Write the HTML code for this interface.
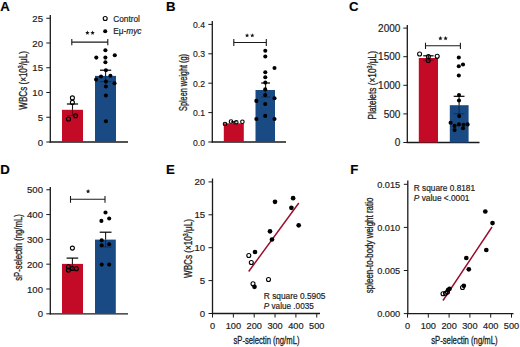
<!DOCTYPE html>
<html><head><meta charset="utf-8"><style>
html,body{margin:0;padding:0;background:#fff;}
body{width:520px;height:347px;overflow:hidden;}
svg{display:block;font-family:"Liberation Sans", sans-serif;}
text{stroke:#222;stroke-width:0.18px;}
</style></head><body>
<svg width="520" height="347" viewBox="0 0 520 347">
<rect width="520" height="347" fill="#fff"/>
<text x="0.2" y="11.2" font-size="13.2" text-anchor="start" font-weight="bold" fill="#000" >A</text>
<line x1="50.3" y1="15" x2="50.3" y2="142.6" stroke="#1a1a1a" stroke-width="1.3"/>
<line x1="46.3" y1="142.0" x2="50.3" y2="142.0" stroke="#1a1a1a" stroke-width="1"/>
<text transform="translate(43.00,145.55) scale(1.0,1)" font-size="9.6" text-anchor="end" fill="#1a1a1a">0</text>
<line x1="46.3" y1="117.25" x2="50.3" y2="117.25" stroke="#1a1a1a" stroke-width="1"/>
<text transform="translate(43.00,120.80) scale(1.0,1)" font-size="9.6" text-anchor="end" fill="#1a1a1a">5</text>
<line x1="46.3" y1="92.5" x2="50.3" y2="92.5" stroke="#1a1a1a" stroke-width="1"/>
<text transform="translate(43.00,96.05) scale(1.0,1)" font-size="9.6" text-anchor="end" fill="#1a1a1a">10</text>
<line x1="46.3" y1="67.75" x2="50.3" y2="67.75" stroke="#1a1a1a" stroke-width="1"/>
<text transform="translate(43.00,71.30) scale(1.0,1)" font-size="9.6" text-anchor="end" fill="#1a1a1a">15</text>
<line x1="46.3" y1="43.0" x2="50.3" y2="43.0" stroke="#1a1a1a" stroke-width="1"/>
<text transform="translate(43.00,46.55) scale(1.0,1)" font-size="9.6" text-anchor="end" fill="#1a1a1a">20</text>
<line x1="46.3" y1="18.25" x2="50.3" y2="18.25" stroke="#1a1a1a" stroke-width="1"/>
<text transform="translate(43.00,21.80) scale(1.0,1)" font-size="9.6" text-anchor="end" fill="#1a1a1a">25</text>
<line x1="49.699999999999996" y1="142.0" x2="128" y2="142.0" stroke="#1a1a1a" stroke-width="1.3"/>
<rect x="62" y="109.8" width="21" height="32.2" fill="#C30A26"/>
<rect x="95" y="75.9" width="21" height="66.1" fill="#1A4A84"/>
<line x1="72.5" y1="104" x2="72.5" y2="109.8" stroke="#1a1a1a" stroke-width="1.1"/>
<line x1="72.5" y1="109.8" x2="72.5" y2="115.6" stroke="#000" stroke-opacity="0.45" stroke-width="1.1"/>
<line x1="66.9" y1="115.6" x2="78.1" y2="115.6" stroke="#000" stroke-opacity="0.35" stroke-width="1.1"/>
<line x1="66.9" y1="104" x2="78.1" y2="104" stroke="#000" stroke-width="1.2"/>
<line x1="105.6" y1="70.2" x2="105.6" y2="75.9" stroke="#1a1a1a" stroke-width="1.1"/>
<line x1="105.6" y1="75.9" x2="105.6" y2="81.6" stroke="#000" stroke-opacity="0.45" stroke-width="1.1"/>
<line x1="100.0" y1="81.6" x2="111.19999999999999" y2="81.6" stroke="#000" stroke-opacity="0.35" stroke-width="1.1"/>
<line x1="100.0" y1="70.2" x2="111.19999999999999" y2="70.2" stroke="#000" stroke-width="1.2"/>
<circle cx="72.4" cy="97.9" r="2.0" fill="none" stroke="#000" stroke-width="1.1"/>
<circle cx="72.4" cy="102.4" r="2.0" fill="none" stroke="#000" stroke-width="1.1"/>
<circle cx="68.5" cy="119" r="2.0" fill="none" stroke="#000" stroke-width="1.1"/>
<circle cx="75.6" cy="115.7" r="2.0" fill="none" stroke="#000" stroke-width="1.1"/>
<circle cx="105.4" cy="50.2" r="2.05" fill="#000"/>
<circle cx="96.3" cy="57.6" r="2.05" fill="#000"/>
<circle cx="105.4" cy="57.6" r="2.05" fill="#000"/>
<circle cx="114.8" cy="55.2" r="2.05" fill="#000"/>
<circle cx="105.4" cy="62.3" r="2.05" fill="#000"/>
<circle cx="105.9" cy="70.3" r="2.05" fill="#000"/>
<circle cx="96.1" cy="79.6" r="2.05" fill="#000"/>
<circle cx="101" cy="76.5" r="2.05" fill="#000"/>
<circle cx="110.4" cy="75.8" r="2.05" fill="#000"/>
<circle cx="105.9" cy="81.6" r="2.05" fill="#000"/>
<circle cx="114.5" cy="83.3" r="2.05" fill="#000"/>
<circle cx="105.9" cy="86.5" r="2.05" fill="#000"/>
<circle cx="105.9" cy="95.5" r="2.05" fill="#000"/>
<circle cx="105.9" cy="121.3" r="2.05" fill="#000"/>
<line x1="71.8" y1="42.1" x2="107.8" y2="42.1" stroke="#1a1a1a" stroke-width="1.1"/>
<line x1="71.8" y1="39.1" x2="71.8" y2="45.2" stroke="#1a1a1a" stroke-width="1.1"/>
<line x1="107.8" y1="39.1" x2="107.8" y2="45.2" stroke="#1a1a1a" stroke-width="1.1"/>
<polygon points="87.40,30.60 87.99,32.09 89.59,32.19 88.35,33.21 88.75,34.76 87.40,33.90 86.05,34.76 86.45,33.21 85.21,32.19 86.81,32.09" fill="#111"/>
<polygon points="92.60,30.60 93.19,32.09 94.79,32.19 93.55,33.21 93.95,34.76 92.60,33.90 91.25,34.76 91.65,33.21 90.41,32.19 92.01,32.09" fill="#111"/>
<circle cx="105.2" cy="18.5" r="2.0" fill="none" stroke="#000" stroke-width="1.1"/>
<text x="113.2" y="21.6" font-size="8.3" text-anchor="start" font-weight="normal" fill="#1a1a1a" >Control</text>
<circle cx="105.2" cy="31.2" r="2.05" fill="#000"/>
<text x="113.2" y="34.2" font-size="8.3" text-anchor="start" font-weight="normal" fill="#1a1a1a" >Eμ-<tspan font-style="italic">myc</tspan></text>
<text x="0" y="0" font-size="10" text-anchor="middle" fill="#1a1a1a" style="stroke-width:0.3px" textLength="58.5" lengthAdjust="spacingAndGlyphs" transform="translate(23.3,80.4) rotate(-90)" dominant-baseline="central">WBCs (×10<tspan dy="-3" font-size="6.5">3</tspan><tspan dy="3">/μL)</tspan></text>
<text x="166.1" y="11.3" font-size="13.2" text-anchor="start" font-weight="bold" fill="#000" >B</text>
<line x1="212.3" y1="21" x2="212.3" y2="142.6" stroke="#1a1a1a" stroke-width="1.3"/>
<line x1="208.3" y1="142.0" x2="212.3" y2="142.0" stroke="#1a1a1a" stroke-width="1"/>
<text transform="translate(205.00,145.66) scale(0.87,1)" font-size="9.9" text-anchor="end" fill="#1a1a1a">0.0</text>
<line x1="208.3" y1="112.6" x2="212.3" y2="112.6" stroke="#1a1a1a" stroke-width="1"/>
<text transform="translate(205.00,116.26) scale(0.87,1)" font-size="9.9" text-anchor="end" fill="#1a1a1a">0.1</text>
<line x1="208.3" y1="83.19999999999999" x2="212.3" y2="83.19999999999999" stroke="#1a1a1a" stroke-width="1"/>
<text transform="translate(205.00,86.86) scale(0.87,1)" font-size="9.9" text-anchor="end" fill="#1a1a1a">0.2</text>
<line x1="208.3" y1="53.8" x2="212.3" y2="53.8" stroke="#1a1a1a" stroke-width="1"/>
<text transform="translate(205.00,57.46) scale(0.87,1)" font-size="9.9" text-anchor="end" fill="#1a1a1a">0.3</text>
<line x1="208.3" y1="24.39999999999999" x2="212.3" y2="24.39999999999999" stroke="#1a1a1a" stroke-width="1"/>
<text transform="translate(205.00,28.06) scale(0.87,1)" font-size="9.9" text-anchor="end" fill="#1a1a1a">0.4</text>
<line x1="211.70000000000002" y1="142" x2="286" y2="142" stroke="#1a1a1a" stroke-width="1.3"/>
<rect x="223.8" y="123.3" width="20" height="18.700000000000003" fill="#C30A26"/>
<rect x="255.5" y="90" width="19.5" height="52" fill="#1A4A84"/>
<line x1="265.6" y1="83" x2="265.6" y2="90" stroke="#1a1a1a" stroke-width="1.1"/>
<line x1="265.6" y1="90" x2="265.6" y2="97" stroke="#000" stroke-opacity="0.45" stroke-width="1.1"/>
<line x1="261.20000000000005" y1="97" x2="270.0" y2="97" stroke="#000" stroke-opacity="0.35" stroke-width="1.1"/>
<line x1="261.20000000000005" y1="83" x2="270.0" y2="83" stroke="#000" stroke-width="1.2"/>
<line x1="233.8" y1="121.8" x2="233.8" y2="124.6" stroke="#1a1a1a" stroke-width="1.1"/>
<line x1="231" y1="121.8" x2="236.6" y2="121.8" stroke="#1a1a1a" stroke-width="1.2"/>
<circle cx="225" cy="124" r="1.75" fill="none" stroke="#000" stroke-width="1.1"/>
<circle cx="231" cy="121.5" r="1.75" fill="none" stroke="#000" stroke-width="1.1"/>
<circle cx="236.3" cy="122.3" r="1.75" fill="none" stroke="#000" stroke-width="1.1"/>
<circle cx="242.4" cy="121.8" r="1.75" fill="none" stroke="#000" stroke-width="1.1"/>
<circle cx="265.3" cy="50.8" r="2.05" fill="#000"/>
<circle cx="265.3" cy="56.5" r="2.05" fill="#000"/>
<circle cx="274.5" cy="68" r="2.05" fill="#000"/>
<circle cx="265.3" cy="72.2" r="2.05" fill="#000"/>
<circle cx="265.3" cy="77.3" r="2.05" fill="#000"/>
<circle cx="265.3" cy="82.6" r="2.05" fill="#000"/>
<circle cx="265.2" cy="89.4" r="2.05" fill="#000"/>
<circle cx="265.2" cy="95.1" r="2.05" fill="#000"/>
<circle cx="256.4" cy="100.9" r="2.05" fill="#000"/>
<circle cx="274.5" cy="98.2" r="2.05" fill="#000"/>
<circle cx="265.2" cy="104" r="2.05" fill="#000"/>
<circle cx="265.2" cy="115.9" r="2.05" fill="#000"/>
<circle cx="256.4" cy="119" r="2.05" fill="#000"/>
<circle cx="274.5" cy="119" r="2.05" fill="#000"/>
<line x1="233.8" y1="42.5" x2="266.3" y2="42.5" stroke="#1a1a1a" stroke-width="1.1"/>
<line x1="233.8" y1="39.0" x2="233.8" y2="46.0" stroke="#1a1a1a" stroke-width="1.1"/>
<line x1="266.3" y1="39.0" x2="266.3" y2="46.0" stroke="#1a1a1a" stroke-width="1.1"/>
<polygon points="247.10,33.20 247.69,34.69 249.29,34.79 248.05,35.81 248.45,37.36 247.10,36.50 245.75,37.36 246.15,35.81 244.91,34.79 246.51,34.69" fill="#111"/>
<polygon points="252.30,33.20 252.89,34.69 254.49,34.79 253.25,35.81 253.65,37.36 252.30,36.50 250.95,37.36 251.35,35.81 250.11,34.79 251.71,34.69" fill="#111"/>
<text x="0" y="0" font-size="10" text-anchor="middle" fill="#1a1a1a" style="stroke-width:0.3px" textLength="57" lengthAdjust="spacingAndGlyphs" transform="translate(183.7,82.5) rotate(-90)" dominant-baseline="central">Spleen weight (g)</text>
<text x="349.0" y="11.2" font-size="13.2" text-anchor="start" font-weight="bold" fill="#000" >C</text>
<line x1="407.3" y1="25" x2="407.3" y2="143.1" stroke="#1a1a1a" stroke-width="1.3"/>
<line x1="403.3" y1="142.5" x2="407.3" y2="142.5" stroke="#1a1a1a" stroke-width="1"/>
<text transform="translate(400.30,146.27) scale(0.98,1)" font-size="10.2" text-anchor="end" fill="#1a1a1a">0</text>
<line x1="403.3" y1="113.9" x2="407.3" y2="113.9" stroke="#1a1a1a" stroke-width="1"/>
<text transform="translate(400.30,117.67) scale(0.98,1)" font-size="10.2" text-anchor="end" fill="#1a1a1a">500</text>
<line x1="403.3" y1="85.3" x2="407.3" y2="85.3" stroke="#1a1a1a" stroke-width="1"/>
<text transform="translate(400.30,89.07) scale(0.98,1)" font-size="10.2" text-anchor="end" fill="#1a1a1a">1000</text>
<line x1="403.3" y1="56.7" x2="407.3" y2="56.7" stroke="#1a1a1a" stroke-width="1"/>
<text transform="translate(400.30,60.47) scale(0.98,1)" font-size="10.2" text-anchor="end" fill="#1a1a1a">1500</text>
<line x1="403.3" y1="28.099999999999994" x2="407.3" y2="28.099999999999994" stroke="#1a1a1a" stroke-width="1"/>
<text transform="translate(400.30,31.87) scale(0.98,1)" font-size="10.2" text-anchor="end" fill="#1a1a1a">2000</text>
<line x1="406.7" y1="142.5" x2="479.5" y2="142.5" stroke="#1a1a1a" stroke-width="1.3"/>
<rect x="418.8" y="58" width="19.2" height="84.5" fill="#C30A26"/>
<rect x="449.8" y="105.2" width="18.8" height="37.3" fill="#1A4A84"/>
<line x1="428.4" y1="55.8" x2="428.4" y2="58" stroke="#1a1a1a" stroke-width="1.1"/>
<line x1="428.4" y1="58" x2="428.4" y2="60.2" stroke="#000" stroke-opacity="0.45" stroke-width="1.1"/>
<line x1="423.2" y1="60.2" x2="433.59999999999997" y2="60.2" stroke="#000" stroke-opacity="0.35" stroke-width="1.1"/>
<line x1="423.2" y1="55.8" x2="433.59999999999997" y2="55.8" stroke="#000" stroke-width="1.2"/>
<line x1="459.1" y1="96.3" x2="459.1" y2="105" stroke="#1a1a1a" stroke-width="1.1"/>
<line x1="459.1" y1="105" x2="459.1" y2="113.7" stroke="#000" stroke-opacity="0.45" stroke-width="1.1"/>
<line x1="453.70000000000005" y1="113.7" x2="464.5" y2="113.7" stroke="#000" stroke-opacity="0.35" stroke-width="1.1"/>
<line x1="453.70000000000005" y1="96.3" x2="464.5" y2="96.3" stroke="#000" stroke-width="1.2"/>
<circle cx="419.6" cy="54" r="2.0" fill="none" stroke="#000" stroke-width="1.1"/>
<circle cx="428.4" cy="56.5" r="2.0" fill="none" stroke="#000" stroke-width="1.1"/>
<circle cx="437.2" cy="56.2" r="2.0" fill="none" stroke="#000" stroke-width="1.1"/>
<circle cx="428.2" cy="60.5" r="2.0" fill="none" stroke="#000" stroke-width="1.1"/>
<circle cx="458.8" cy="57.5" r="2.05" fill="#000"/>
<circle cx="458.8" cy="66.3" r="2.05" fill="#000"/>
<circle cx="463" cy="64.5" r="2.05" fill="#000"/>
<circle cx="458.8" cy="75.5" r="2.05" fill="#000"/>
<circle cx="459" cy="95" r="2.05" fill="#000"/>
<circle cx="459" cy="100.5" r="2.05" fill="#000"/>
<circle cx="459.2" cy="116.1" r="2.05" fill="#000"/>
<circle cx="450.6" cy="122.8" r="2.05" fill="#000"/>
<circle cx="454.6" cy="125.9" r="2.05" fill="#000"/>
<circle cx="458.9" cy="124.4" r="2.05" fill="#000"/>
<circle cx="463.5" cy="124.7" r="2.05" fill="#000"/>
<circle cx="467.6" cy="124.4" r="2.05" fill="#000"/>
<circle cx="454.6" cy="130.1" r="2.05" fill="#000"/>
<circle cx="463" cy="128.2" r="2.05" fill="#000"/>
<line x1="425.5" y1="45.8" x2="460.4" y2="45.8" stroke="#1a1a1a" stroke-width="1.1"/>
<line x1="425.5" y1="42.7" x2="425.5" y2="49.0" stroke="#1a1a1a" stroke-width="1.1"/>
<line x1="460.4" y1="42.7" x2="460.4" y2="49.0" stroke="#1a1a1a" stroke-width="1.1"/>
<polygon points="440.40,36.10 440.99,37.59 442.59,37.69 441.35,38.71 441.75,40.26 440.40,39.40 439.05,40.26 439.45,38.71 438.21,37.69 439.81,37.59" fill="#111"/>
<polygon points="445.60,36.10 446.19,37.59 447.79,37.69 446.55,38.71 446.95,40.26 445.60,39.40 444.25,40.26 444.65,38.71 443.41,37.69 445.01,37.59" fill="#111"/>
<text x="0" y="0" font-size="10" text-anchor="middle" fill="#1a1a1a" style="stroke-width:0.3px" textLength="68.4" lengthAdjust="spacingAndGlyphs" transform="translate(372.2,85.2) rotate(-90)" dominant-baseline="central">Platelets (×10<tspan dy="-3" font-size="6.5">3</tspan><tspan dy="3">/μL)</tspan></text>
<text x="0.3" y="173.8" font-size="13.2" text-anchor="start" font-weight="bold" fill="#000" >D</text>
<line x1="50.3" y1="187" x2="50.3" y2="314.40000000000003" stroke="#1a1a1a" stroke-width="1.3"/>
<line x1="46.3" y1="313.8" x2="50.3" y2="313.8" stroke="#1a1a1a" stroke-width="1"/>
<text transform="translate(43.00,317.35) scale(1.0,1)" font-size="9.6" text-anchor="end" fill="#1a1a1a">0</text>
<line x1="46.3" y1="288.99" x2="50.3" y2="288.99" stroke="#1a1a1a" stroke-width="1"/>
<text transform="translate(43.00,292.54) scale(1.0,1)" font-size="9.6" text-anchor="end" fill="#1a1a1a">100</text>
<line x1="46.3" y1="264.18" x2="50.3" y2="264.18" stroke="#1a1a1a" stroke-width="1"/>
<text transform="translate(43.00,267.73) scale(1.0,1)" font-size="9.6" text-anchor="end" fill="#1a1a1a">200</text>
<line x1="46.3" y1="239.37" x2="50.3" y2="239.37" stroke="#1a1a1a" stroke-width="1"/>
<text transform="translate(43.00,242.92) scale(1.0,1)" font-size="9.6" text-anchor="end" fill="#1a1a1a">300</text>
<line x1="46.3" y1="214.56" x2="50.3" y2="214.56" stroke="#1a1a1a" stroke-width="1"/>
<text transform="translate(43.00,218.11) scale(1.0,1)" font-size="9.6" text-anchor="end" fill="#1a1a1a">400</text>
<line x1="46.3" y1="189.75" x2="50.3" y2="189.75" stroke="#1a1a1a" stroke-width="1"/>
<text transform="translate(43.00,193.30) scale(1.0,1)" font-size="9.6" text-anchor="end" fill="#1a1a1a">500</text>
<line x1="49.699999999999996" y1="313.8" x2="128" y2="313.8" stroke="#1a1a1a" stroke-width="1.3"/>
<rect x="62" y="263.9" width="21" height="49.900000000000034" fill="#C30A26"/>
<rect x="95" y="239.6" width="20.8" height="74.20000000000002" fill="#1A4A84"/>
<line x1="72.4" y1="258.1" x2="72.4" y2="263.9" stroke="#1a1a1a" stroke-width="1.1"/>
<line x1="72.4" y1="263.9" x2="72.4" y2="269.7" stroke="#000" stroke-opacity="0.45" stroke-width="1.1"/>
<line x1="66.60000000000001" y1="269.7" x2="78.2" y2="269.7" stroke="#000" stroke-opacity="0.35" stroke-width="1.1"/>
<line x1="66.60000000000001" y1="258.1" x2="78.2" y2="258.1" stroke="#000" stroke-width="1.2"/>
<line x1="105.6" y1="232.2" x2="105.6" y2="239.6" stroke="#1a1a1a" stroke-width="1.1"/>
<line x1="105.6" y1="239.6" x2="105.6" y2="247" stroke="#000" stroke-opacity="0.45" stroke-width="1.1"/>
<line x1="99.69999999999999" y1="247" x2="111.5" y2="247" stroke="#000" stroke-opacity="0.35" stroke-width="1.1"/>
<line x1="99.69999999999999" y1="232.2" x2="111.5" y2="232.2" stroke="#000" stroke-width="1.2"/>
<circle cx="72.4" cy="248.1" r="2.0" fill="none" stroke="#000" stroke-width="1.1"/>
<circle cx="68.4" cy="266.7" r="2.0" fill="none" stroke="#000" stroke-width="1.1"/>
<circle cx="68.4" cy="270.1" r="2.0" fill="none" stroke="#000" stroke-width="1.1"/>
<circle cx="72.4" cy="268.5" r="2.0" fill="none" stroke="#000" stroke-width="1.1"/>
<circle cx="76.4" cy="268.8" r="2.0" fill="none" stroke="#000" stroke-width="1.1"/>
<circle cx="105.5" cy="212.5" r="2.05" fill="#000"/>
<circle cx="101.4" cy="220.9" r="2.05" fill="#000"/>
<circle cx="109.2" cy="218.5" r="2.05" fill="#000"/>
<circle cx="101.7" cy="240.2" r="2.05" fill="#000"/>
<circle cx="101.7" cy="245.3" r="2.05" fill="#000"/>
<circle cx="109.2" cy="244.3" r="2.05" fill="#000"/>
<circle cx="101.7" cy="264.6" r="2.05" fill="#000"/>
<circle cx="109.2" cy="264.6" r="2.05" fill="#000"/>
<line x1="70.5" y1="199.3" x2="105" y2="199.3" stroke="#1a1a1a" stroke-width="1.1"/>
<line x1="70.5" y1="196.0" x2="70.5" y2="202.8" stroke="#1a1a1a" stroke-width="1.1"/>
<line x1="105" y1="196.0" x2="105" y2="202.8" stroke="#1a1a1a" stroke-width="1.1"/>
<polygon points="88.10,189.10 88.69,190.59 90.29,190.69 89.05,191.71 89.45,193.26 88.10,192.40 86.75,193.26 87.15,191.71 85.91,190.69 87.51,190.59" fill="#111"/>
<text x="0" y="0" font-size="10" text-anchor="middle" fill="#1a1a1a" style="stroke-width:0.3px" textLength="66.5" lengthAdjust="spacingAndGlyphs" transform="translate(18.3,247.5) rotate(-90)" dominant-baseline="central">sP-selectin (ng/mL)</text>
<text x="166.1" y="173.8" font-size="13.2" text-anchor="start" font-weight="bold" fill="#000" >E</text>
<line x1="212.5" y1="178.5" x2="212.5" y2="314.1" stroke="#1a1a1a" stroke-width="1.3"/>
<line x1="208.5" y1="313.5" x2="212.5" y2="313.5" stroke="#1a1a1a" stroke-width="1"/>
<text transform="translate(205.20,317.05) scale(1.0,1)" font-size="9.6" text-anchor="end" fill="#1a1a1a">0</text>
<line x1="208.5" y1="280.6" x2="212.5" y2="280.6" stroke="#1a1a1a" stroke-width="1"/>
<text transform="translate(205.20,284.15) scale(1.0,1)" font-size="9.6" text-anchor="end" fill="#1a1a1a">5</text>
<line x1="208.5" y1="247.7" x2="212.5" y2="247.7" stroke="#1a1a1a" stroke-width="1"/>
<text transform="translate(205.20,251.25) scale(1.0,1)" font-size="9.6" text-anchor="end" fill="#1a1a1a">10</text>
<line x1="208.5" y1="214.8" x2="212.5" y2="214.8" stroke="#1a1a1a" stroke-width="1"/>
<text transform="translate(205.20,218.35) scale(1.0,1)" font-size="9.6" text-anchor="end" fill="#1a1a1a">15</text>
<line x1="208.5" y1="181.9" x2="212.5" y2="181.9" stroke="#1a1a1a" stroke-width="1"/>
<text transform="translate(205.20,185.45) scale(1.0,1)" font-size="9.6" text-anchor="end" fill="#1a1a1a">20</text>
<line x1="211.9" y1="313.5" x2="320" y2="313.5" stroke="#1a1a1a" stroke-width="1.3"/>
<line x1="212.5" y1="313.5" x2="212.5" y2="317.5" stroke="#1a1a1a" stroke-width="1"/>
<text x="212.5" y="328.7" font-size="9.2" text-anchor="middle" font-weight="normal" fill="#1a1a1a" >0</text>
<line x1="233.35" y1="313.5" x2="233.35" y2="317.5" stroke="#1a1a1a" stroke-width="1"/>
<text x="233.35" y="328.7" font-size="9.2" text-anchor="middle" font-weight="normal" fill="#1a1a1a" >100</text>
<line x1="254.2" y1="313.5" x2="254.2" y2="317.5" stroke="#1a1a1a" stroke-width="1"/>
<text x="254.2" y="328.7" font-size="9.2" text-anchor="middle" font-weight="normal" fill="#1a1a1a" >200</text>
<line x1="275.05" y1="313.5" x2="275.05" y2="317.5" stroke="#1a1a1a" stroke-width="1"/>
<text x="275.05" y="328.7" font-size="9.2" text-anchor="middle" font-weight="normal" fill="#1a1a1a" >300</text>
<line x1="295.9" y1="313.5" x2="295.9" y2="317.5" stroke="#1a1a1a" stroke-width="1"/>
<text x="295.9" y="328.7" font-size="9.2" text-anchor="middle" font-weight="normal" fill="#1a1a1a" >400</text>
<line x1="316.75" y1="313.5" x2="316.75" y2="317.5" stroke="#1a1a1a" stroke-width="1"/>
<text x="316.75" y="328.7" font-size="9.2" text-anchor="middle" font-weight="normal" fill="#1a1a1a" >500</text>
<text x="266.45" y="343.9" font-size="10" text-anchor="middle" font-weight="normal" fill="#1a1a1a" style="stroke-width:0.3px" textLength="66" lengthAdjust="spacingAndGlyphs">sP-selectin (ng/mL)</text>
<line x1="248.7" y1="271.5" x2="298.8" y2="203" stroke="#980C2C" stroke-width="1.45"/>
<circle cx="275" cy="201.8" r="2.35" fill="#000"/>
<circle cx="293.1" cy="198.2" r="2.35" fill="#000"/>
<circle cx="291.4" cy="207.8" r="2.35" fill="#000"/>
<circle cx="298.7" cy="225.3" r="2.35" fill="#000"/>
<circle cx="270" cy="231.3" r="2.35" fill="#000"/>
<circle cx="272" cy="239.5" r="2.35" fill="#000"/>
<circle cx="255" cy="252" r="2.35" fill="#000"/>
<circle cx="254.5" cy="286.8" r="2.35" fill="#000"/>
<circle cx="248.8" cy="255.5" r="2.0" fill="none" stroke="#000" stroke-width="1.1"/>
<circle cx="251.3" cy="262.5" r="2.0" fill="none" stroke="#000" stroke-width="1.1"/>
<circle cx="253" cy="283.8" r="2.0" fill="none" stroke="#000" stroke-width="1.1"/>
<circle cx="268.5" cy="279.5" r="2.0" fill="none" stroke="#000" stroke-width="1.1"/>
<text x="263.8" y="298.8" font-size="8.4" text-anchor="start" font-weight="normal" fill="#1a1a1a" textLength="61.7" lengthAdjust="spacingAndGlyphs">R square 0.5905</text>
<text x="263.8" y="309.2" font-size="8.4" text-anchor="start" font-weight="normal" fill="#1a1a1a" textLength="50" lengthAdjust="spacingAndGlyphs"><tspan font-style="italic">P</tspan> value .0035</text>
<text x="0" y="0" font-size="10" text-anchor="middle" fill="#1a1a1a" style="stroke-width:0.3px" textLength="59" lengthAdjust="spacingAndGlyphs" transform="translate(188.3,248.5) rotate(-90)" dominant-baseline="central">WBCs (×10<tspan dy="-3" font-size="6.5">3</tspan><tspan dy="3">/μL)</tspan></text>
<text x="350.2" y="173.8" font-size="13.2" text-anchor="start" font-weight="bold" fill="#000" >F</text>
<line x1="407.8" y1="180.5" x2="407.8" y2="314.20000000000005" stroke="#1a1a1a" stroke-width="1.3"/>
<line x1="403.8" y1="313.6" x2="407.8" y2="313.6" stroke="#1a1a1a" stroke-width="1"/>
<text transform="translate(400.20,317.23) scale(0.94,1)" font-size="9.8" text-anchor="end" fill="#1a1a1a">0.000</text>
<line x1="403.8" y1="270.5" x2="407.8" y2="270.5" stroke="#1a1a1a" stroke-width="1"/>
<text transform="translate(400.20,274.13) scale(0.94,1)" font-size="9.8" text-anchor="end" fill="#1a1a1a">0.005</text>
<line x1="403.8" y1="227.40000000000003" x2="407.8" y2="227.40000000000003" stroke="#1a1a1a" stroke-width="1"/>
<text transform="translate(400.20,231.03) scale(0.94,1)" font-size="9.8" text-anchor="end" fill="#1a1a1a">0.010</text>
<line x1="403.8" y1="184.30000000000004" x2="407.8" y2="184.30000000000004" stroke="#1a1a1a" stroke-width="1"/>
<text transform="translate(400.20,187.93) scale(0.94,1)" font-size="9.8" text-anchor="end" fill="#1a1a1a">0.015</text>
<line x1="407.2" y1="313.6" x2="513.5" y2="313.6" stroke="#1a1a1a" stroke-width="1.3"/>
<line x1="407.5" y1="313.6" x2="407.5" y2="317.6" stroke="#1a1a1a" stroke-width="1"/>
<text x="407.5" y="328.7" font-size="9.2" text-anchor="middle" font-weight="normal" fill="#1a1a1a" >0</text>
<line x1="428.3" y1="313.6" x2="428.3" y2="317.6" stroke="#1a1a1a" stroke-width="1"/>
<text x="428.3" y="328.7" font-size="9.2" text-anchor="middle" font-weight="normal" fill="#1a1a1a" >100</text>
<line x1="449.1" y1="313.6" x2="449.1" y2="317.6" stroke="#1a1a1a" stroke-width="1"/>
<text x="449.1" y="328.7" font-size="9.2" text-anchor="middle" font-weight="normal" fill="#1a1a1a" >200</text>
<line x1="469.9" y1="313.6" x2="469.9" y2="317.6" stroke="#1a1a1a" stroke-width="1"/>
<text x="469.9" y="328.7" font-size="9.2" text-anchor="middle" font-weight="normal" fill="#1a1a1a" >300</text>
<line x1="490.7" y1="313.6" x2="490.7" y2="317.6" stroke="#1a1a1a" stroke-width="1"/>
<text x="490.7" y="328.7" font-size="9.2" text-anchor="middle" font-weight="normal" fill="#1a1a1a" >400</text>
<line x1="511.5" y1="313.6" x2="511.5" y2="317.6" stroke="#1a1a1a" stroke-width="1"/>
<text x="511.5" y="328.7" font-size="9.2" text-anchor="middle" font-weight="normal" fill="#1a1a1a" >500</text>
<text x="464.4" y="344.1" font-size="10" text-anchor="middle" font-weight="normal" fill="#1a1a1a" style="stroke-width:0.3px" textLength="66.4" lengthAdjust="spacingAndGlyphs">sP-selectin (ng/mL)</text>
<line x1="443" y1="300.5" x2="492" y2="227" stroke="#980C2C" stroke-width="1.45"/>
<circle cx="485.3" cy="211.5" r="2.35" fill="#000"/>
<circle cx="492.5" cy="223.1" r="2.35" fill="#000"/>
<circle cx="486.3" cy="250" r="2.35" fill="#000"/>
<circle cx="466.3" cy="258" r="2.35" fill="#000"/>
<circle cx="468.8" cy="269.3" r="2.35" fill="#000"/>
<circle cx="463.8" cy="285.8" r="2.35" fill="#000"/>
<circle cx="449.5" cy="288.8" r="2.35" fill="#000"/>
<circle cx="448" cy="290" r="2.35" fill="#000"/>
<circle cx="462.5" cy="287.5" r="2.0" fill="none" stroke="#000" stroke-width="1.1"/>
<circle cx="443" cy="293.8" r="2.0" fill="none" stroke="#000" stroke-width="1.1"/>
<circle cx="445.5" cy="293.3" r="2.0" fill="none" stroke="#000" stroke-width="1.1"/>
<circle cx="447.5" cy="292" r="2.0" fill="none" stroke="#000" stroke-width="1.1"/>
<text x="413.8" y="190.6" font-size="8.4" text-anchor="start" font-weight="normal" fill="#1a1a1a" textLength="61.3" lengthAdjust="spacingAndGlyphs">R square 0.8181</text>
<text x="413.8" y="200.8" font-size="8.4" text-anchor="start" font-weight="normal" fill="#1a1a1a" textLength="55.7" lengthAdjust="spacingAndGlyphs"><tspan font-style="italic">P</tspan> value &lt;.0001</text>
<text x="0" y="0" font-size="10" text-anchor="middle" fill="#1a1a1a" style="stroke-width:0.3px" textLength="95.6" lengthAdjust="spacingAndGlyphs" transform="translate(369.9,245.4) rotate(-90)" dominant-baseline="central">spleen-to-body weight ratio</text>
</svg>
</body></html>
